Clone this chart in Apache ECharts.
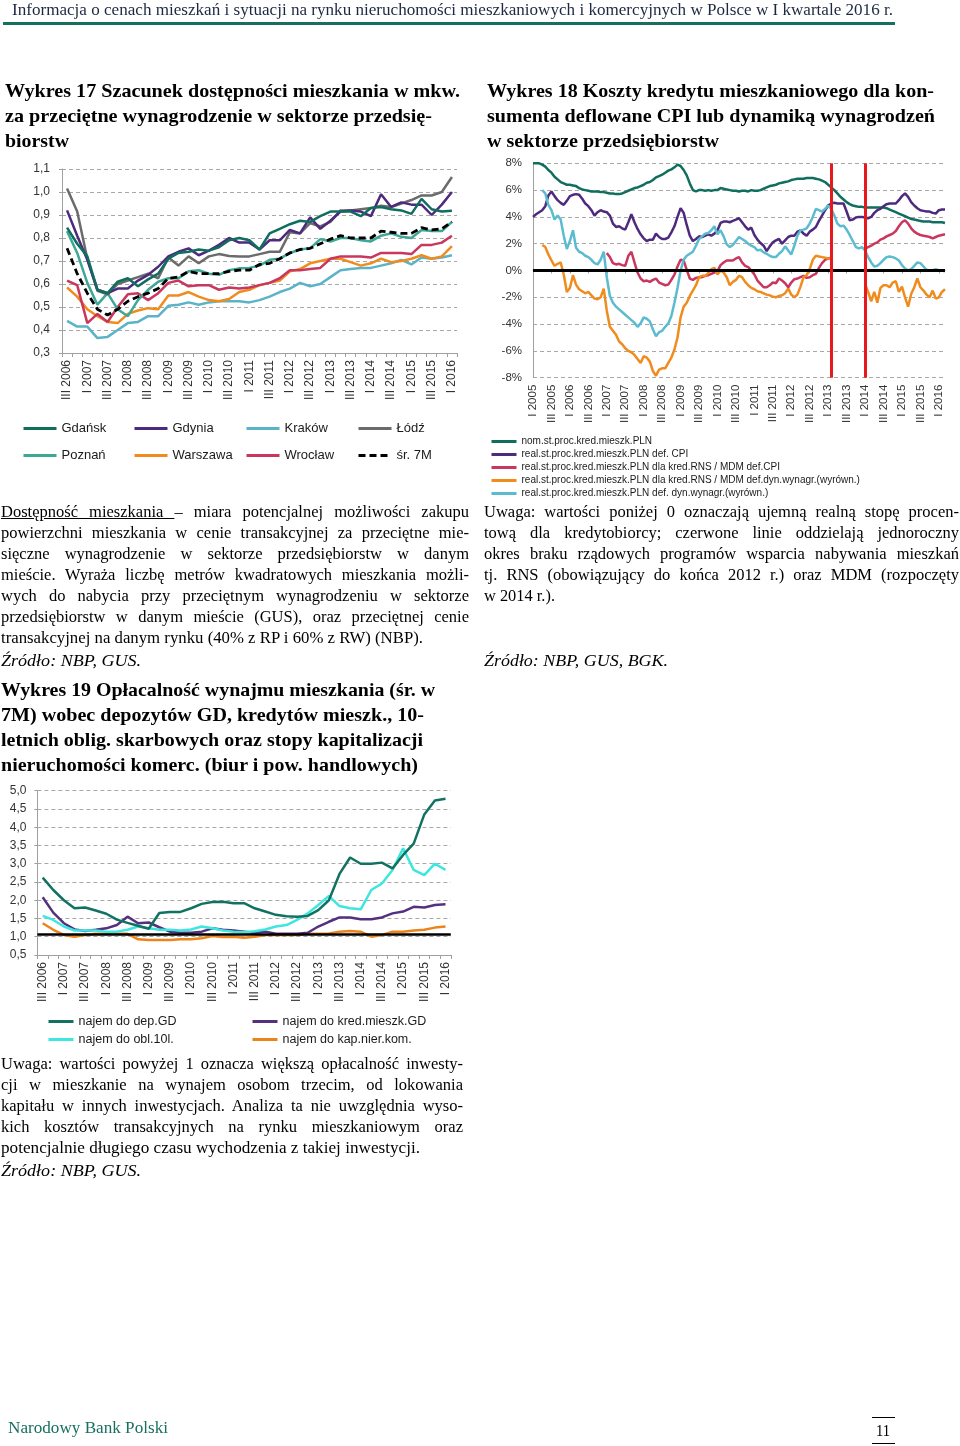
<!DOCTYPE html>
<html><head><meta charset="utf-8">
<script src="https://cdn.jsdelivr.net/npm/echarts@6.0.0/dist/echarts.min.js"></script>
<style>
html,body{margin:0;padding:0;background:#fff;}
#page{position:relative;width:960px;height:1446px;overflow:hidden;background:#fff;}
#chart{position:absolute;left:0;top:0;width:960px;height:1446px;}
.t{position:absolute;white-space:nowrap;font-family:'Liberation Serif','Times New Roman',serif;color:#000;}
.hl{position:absolute;}
</style></head>
<body><div id="page"><div id="chart"></div>
<div class="hl" style="left:3px;top:22px;width:892px;height:3px;background:#17705f;"></div>
<div class="hl" style="left:872px;top:1417px;width:23px;height:1px;background:#000;"></div>
<div class="hl" style="left:872px;top:1443px;width:23px;height:1px;background:#000;"></div>
</div>
<script>
// ---------- Wykres 17 (quarterly, III 2006 - I 2016) ----------
const quarters = ["III 2006","IV 2006","I 2007","II 2007","III 2007","IV 2007","I 2008","II 2008","III 2008","IV 2008","I 2009","II 2009","III 2009","IV 2009","I 2010","II 2010","III 2010","IV 2010","I 2011","II 2011","III 2011","IV 2011","I 2012","II 2012","III 2012","IV 2012","I 2013","II 2013","III 2013","IV 2013","I 2014","II 2014","III 2014","IV 2014","I 2015","II 2015","III 2015","IV 2015","I 2016"];
const gdansk   = [0.845,0.775,0.72,0.575,0.56,0.61,0.625,0.59,0.62,0.645, 0.71,0.735,0.74,0.75,0.745,0.76,0.79,0.80,0.79,0.75, 0.82,0.84,0.86,0.875,0.87,0.895,0.915,0.915,0.915,0.895, 0.93,0.935,0.925,0.92,0.905,0.97,0.925,0.915,0.918];
const gdynia   = [0.92,0.81,0.705,0.575,0.56,0.58,0.58,0.615,0.64,0.675, 0.72,0.74,0.755,0.725,0.745,0.77,0.80,0.78,0.78,0.75, 0.79,0.79,0.835,0.82,0.89,0.84,0.875,0.915,0.92,0.915, 0.895,0.99,0.935,0.955,0.945,0.945,0.90,0.945,1.0];
const krakow   = [0.44,0.415,0.415,0.365,0.37,0.40,0.43,0.435,0.46,0.46, 0.505,0.51,0.52,0.51,0.52,0.525,0.525,0.525,0.52,0.53, 0.545,0.565,0.58,0.605,0.59,0.60,0.63,0.66,0.665,0.67, 0.67,0.68,0.69,0.705,0.685,0.715,0.71,0.715,0.725];
const lodz     = [1.015,0.915,0.71,0.57,0.555,0.60,0.615,0.63,0.645,0.625, 0.715,0.68,0.72,0.69,0.72,0.73,0.722,0.72,0.72,0.73, 0.74,0.74,0.825,0.82,0.865,0.85,0.87,0.92,0.92,0.925, 0.93,0.94,0.935,0.95,0.965,0.985,0.985,1.0,1.065];
const poznan   = [0.83,0.735,0.605,0.51,0.56,0.49,0.46,0.53,0.575,0.61, 0.625,0.625,0.655,0.66,0.645,0.64,0.66,0.668,0.67,0.68, 0.705,0.71,0.735,0.75,0.755,0.795,0.785,0.80,0.80,0.79, 0.785,0.81,0.82,0.805,0.80,0.835,0.83,0.83,0.87];
const warszawa = [0.585,0.545,0.49,0.46,0.435,0.43,0.47,0.485,0.495,0.49, 0.55,0.55,0.565,0.545,0.53,0.525,0.535,0.565,0.575,0.595, 0.605,0.615,0.655,0.665,0.69,0.70,0.71,0.71,0.695,0.68, 0.69,0.71,0.695,0.70,0.71,0.725,0.71,0.72,0.765];
const wroclaw  = [0.615,0.595,0.43,0.47,0.435,0.50,0.555,0.56,0.53,0.56, 0.605,0.615,0.59,0.595,0.595,0.575,0.585,0.58,0.585,0.595, 0.605,0.625,0.66,0.66,0.665,0.67,0.71,0.72,0.72,0.72, 0.715,0.735,0.735,0.735,0.73,0.77,0.77,0.78,0.81];
const sr7m     = [0.755,0.645,0.56,0.49,0.465,0.49,0.525,0.545,0.56,0.58, 0.625,0.63,0.655,0.645,0.645,0.645,0.655,0.66,0.66,0.685, 0.69,0.71,0.735,0.75,0.755,0.775,0.795,0.81,0.80,0.80, 0.80,0.83,0.825,0.82,0.82,0.845,0.835,0.84,0.87];
const yTicks17 = [0.3,1.1,0.1];

// ---------- Wykres 18 (monthly, I 2005 - III 2016) ----------
const years18 = [2005,2006,2007,2008,2009,2010,2011,2012,2013,2014,2015,2016];
const months18 = [];
years18.forEach(y => { for (let m = 1; m <= 12; m++) { if (y === 2016 && m > 3) break; months18.push(y + '-' + (m < 10 ? '0' + m : m)); } });
const _ = null;
const nom18 = [
 8.0,8.0,8.0,7.9,7.75,7.5,7.3,7.0,6.8,6.6,
 6.5,6.4,6.4,6.35,6.3,6.15,6.05,6.0,5.95,5.9,
 5.9,5.9,5.85,5.85,5.8,5.75,5.75,5.7,5.7,5.75,
 5.85,5.95,6.05,6.15,6.2,6.3,6.4,6.55,6.6,6.75,
 6.95,7.05,7.15,7.3,7.45,7.55,7.7,7.9,7.8,7.5,
 7.1,6.5,6.0,5.9,6.0,6.0,5.95,6.0,5.95,6.0,
 6.0,6.15,6.1,6.05,6.0,5.95,5.95,5.9,5.95,5.95,
 5.9,6.0,5.95,5.95,6.0,6.1,6.2,6.3,6.35,6.4,
 6.5,6.55,6.6,6.65,6.75,6.8,6.85,6.85,6.85,6.9,
 6.9,6.9,6.85,6.8,6.7,6.6,6.4,6.2,6.0,5.75,
 5.5,5.3,5.1,4.95,4.85,4.8,4.75,4.75,4.7,4.7,
 4.7,4.7,4.7,4.7,4.7,4.65,4.55,4.45,4.35,4.25,
 4.15,4.05,3.95,3.85,3.8,3.75,3.7,3.65,3.65,3.65,
 3.6,3.6,3.6,3.6,3.55];
const cpi18 = [
 4.0,4.2,4.35,4.5,4.8,5.6,5.9,5.55,5.25,5.05,
 4.9,5.2,5.55,5.65,5.7,5.65,5.35,5.0,4.8,4.5,
 4.1,4.35,4.5,4.4,4.35,4.1,3.5,3.25,3.3,3.15,
 3.05,3.6,4.2,3.6,3.1,2.7,2.4,2.2,2.3,2.3,
 2.75,2.5,2.35,2.35,2.45,2.85,3.3,4.0,4.65,4.3,
 3.4,2.6,2.2,2.35,2.55,2.5,2.6,2.7,2.6,2.75,
 3.0,3.55,3.65,3.65,3.6,3.7,3.8,3.9,3.6,3.3,
 3.05,3.2,2.65,2.3,2.05,1.85,1.45,1.8,2.1,2.25,
 2.35,2.0,2.25,2.5,2.6,2.6,2.9,3.0,2.75,2.6,
 2.9,3.05,3.25,3.7,4.1,4.5,4.85,5.0,5.05,5.0,
 5.0,5.0,4.4,3.75,3.8,3.95,4.0,4.0,3.95,3.9,
 4.0,4.3,4.5,4.6,4.8,4.95,5.0,5.0,5.0,5.25,
 5.55,5.75,5.5,5.1,4.85,4.65,4.5,4.45,4.4,4.4,
 4.3,4.25,4.5,4.55,4.55];
const rnsCpi18 = [
 _,_,_,_,_,_,_,_,_,_,
 _,_,_,_,_,_,_,_,_,_,
 _,_,_,_,1.3,1.0,0.55,0.45,0.5,0.4,
 0.35,1.1,1.4,0.6,-0.15,-0.6,-0.8,-0.75,-0.85,-0.7,
 -0.6,-0.9,-1.0,-1.1,-1.05,-0.7,-0.3,0.3,0.8,0.75,
 0.05,-0.6,-0.7,-0.55,-0.5,-0.5,-0.4,-0.35,-0.25,-0.15,
 -0.05,0.4,0.6,0.75,0.75,0.75,0.9,1.0,0.6,0.35,
 0.25,0.0,-0.3,-0.75,-1.0,-1.25,-1.25,-1.1,-0.9,-0.95,
 -0.6,-0.75,-0.95,-1.25,-0.9,-0.65,-0.6,-0.5,-0.4,-0.55,
 -0.5,-0.35,-0.25,0.2,0.55,0.8,0.9,0.95,_,_,
 _,_,_,_,_,_,_,_,1.6,1.75,
 1.85,2.0,2.1,2.3,2.4,2.55,2.65,2.75,2.95,3.3,
 3.6,3.75,3.5,3.15,2.9,2.75,2.65,2.6,2.55,2.5,
 2.4,2.5,2.6,2.65,2.7];
const rnsWage18 = [
 _,_,_,1.9,1.75,1.2,0.75,0.35,0.5,0.6,
 -0.3,-1.6,-1.3,-0.35,-1.05,-1.4,-1.55,-1.7,-1.6,-1.85,
 -2.1,-2.15,-2.0,-1.35,-3.0,-4.2,-4.5,-4.8,-5.3,-5.5,
 -5.8,-6.0,-6.1,-6.3,-6.6,-6.9,-6.4,-6.5,-6.8,-7.5,
 -7.85,-7.4,-7.3,-7.3,-6.9,-6.5,-5.9,-5.0,-3.5,-2.7,
 -2.4,-1.9,-1.5,-1.1,-0.5,-0.4,-0.4,-0.2,0.1,0.2,
 -0.3,0.0,-0.15,-0.5,-1.1,-0.85,-0.7,-0.4,-0.5,-0.85,
 -1.1,-1.3,-1.4,-1.55,-1.6,-1.7,-1.8,-1.85,-1.95,-2.0,
 -1.9,-1.85,-1.7,-1.35,-1.8,-2.0,-1.8,-1.2,-0.5,-0.35,
 0.1,0.8,1.1,1.05,1.0,0.95,0.9,0.9,_,_,
 _,_,_,_,_,_,_,_,-1.0,-1.6,
 -2.3,-1.6,-2.4,-1.3,-1.1,-1.1,-1.25,-0.9,-0.8,-1.6,
 -1.2,-2.0,-2.7,-1.75,-1.25,-0.6,-1.25,-1.5,-1.8,-2.0,
 -1.5,-2.1,-2.0,-1.6,-1.4];
const cpiWage18 = [
 _,_,_,6.0,5.75,4.9,4.5,3.8,4.1,3.8,
 2.6,1.6,2.2,3.0,1.7,1.4,1.3,1.1,1.0,0.8,
 0.55,0.45,0.8,1.4,-0.5,-1.9,-2.4,-2.7,-2.9,-3.1,
 -3.3,-3.5,-3.7,-3.9,-4.2,-3.95,-3.5,-3.6,-3.8,-4.4,
 -4.9,-4.6,-4.5,-4.2,-3.95,-3.4,-2.4,-1.3,0.0,0.8,
 1.1,1.25,1.4,1.85,2.35,2.55,2.75,2.8,3.0,3.3,
 2.7,3.0,2.55,1.95,1.75,1.9,2.2,2.5,2.35,2.2,
 2.0,1.85,1.75,1.5,1.55,1.35,1.25,1.1,1.0,1.0,
 1.25,1.45,1.8,1.5,1.2,1.85,2.6,3.0,3.05,3.15,
 3.5,4.0,4.6,4.5,4.4,4.6,4.85,4.6,4.1,3.5,
 3.3,3.35,3.05,2.65,2.2,1.75,1.65,1.75,1.5,1.0,
 0.6,0.3,0.35,0.55,0.8,1.0,1.05,1.0,0.9,0.75,
 0.4,0.15,0.0,0.1,0.35,0.6,0.55,0.3,0.05,0.0,
 0.0,0.1,0.0,0.0,-0.05];
const redLines18 = ["2013-02","2014-01"];

// ---------- Wykres 19 (quarterly, III 2006 - I 2016) ----------
const dep19  = [2.62,2.28,2.0,1.78,1.8,1.72,1.63,1.47,1.38,1.3, 1.22,1.65,1.68,1.68,1.78,1.9,1.95,1.96,1.92,1.92, 1.78,1.69,1.6,1.56,1.55,1.57,1.73,2.0,2.72,3.17, 3.0,3.0,3.03,2.87,3.24,3.55,4.35,4.73,4.78];
const kred19 = [2.08,1.66,1.37,1.2,1.16,1.19,1.23,1.32,1.55,1.37, 1.39,1.26,1.14,1.11,1.11,1.14,1.23,1.19,1.17,1.14, 1.11,1.14,1.08,1.08,1.08,1.11,1.28,1.41,1.53,1.53, 1.48,1.48,1.53,1.64,1.69,1.82,1.8,1.87,1.89];
const obl19  = [1.57,1.46,1.28,1.17,1.17,1.17,1.14,1.14,1.19,1.28, 1.23,1.19,1.19,1.17,1.2,1.28,1.23,1.17,1.14,1.12, 1.15,1.2,1.28,1.32,1.46,1.64,1.87,2.12,1.84,1.78, 1.75,2.28,2.46,2.83,3.42,2.83,2.69,3.0,2.83];
const kap19  = [1.37,1.19,1.05,1.0,1.05,1.08,1.08,1.08,1.08,0.93, 0.91,0.91,0.91,0.93,0.93,0.96,1.02,0.99,1.0,0.97, 1.0,1.05,1.05,1.05,1.05,1.08,1.08,1.09,1.14,1.16, 1.14,1.0,1.05,1.14,1.14,1.17,1.19,1.25,1.28];
const ref19 = 1.08;

// ---------- styles ----------
const SANS = 'Liberation Sans';
const C = {gdansk:'#0f6e5d', gdynia:'#4e2a7e', krakow:'#5bb3c8', lodz:'#6b6b6b', poznan:'#3da896', warszawa:'#f08c1e', wroclaw:'#c9375f'};
const gridLine = {show:true, lineStyle:{color:'#a8a8a8', type:[4,3], width:1}};
const axLine = {show:true, lineStyle:{color:'#a0a0a0', width:1}};
const comma1 = v => v.toFixed(1).replace('.', ',');
const qFmt = v => { const p = v.split('-'); return ['I','II','III','IV'][Math.floor((+p[1]-1)/3)] + ' ' + p[0]; };

function ln(name, data, color, xi, extra) {
  return Object.assign({name, type:'line', data, xAxisIndex:xi, yAxisIndex:xi, symbol:'none', showSymbol:false,
    connectNulls:false, lineStyle:{color, width:2.5}, itemStyle:{color}, emphasis:{disabled:true}}, extra||{});
}
const hiddenSym = {opacity:0, borderWidth:0};
function leg(name, left, yc, w, size, lw) {
  return {data:[name], left, top: yc - 5, padding:0, itemWidth:w, itemHeight:14, itemGap:0, selectedMode:false,
    itemStyle:hiddenSym, lineStyle:{width:lw},
    textStyle:{fontSize:size, color:'#1a1a1a', fontFamily:SANS}};
}

const chart = echarts.init(document.getElementById('chart'));
const option = {
  animation:false,
  textStyle:{fontFamily:SANS},
  grid:[
    {left:62, top:169, width:395, height:184},
    {left:533, top:163.3, width:412, height:214.4},
    {left:37.4, top:790.7, width:413.4, height:164.3}
  ],
  xAxis:[
    {gridIndex:0, type:'category', data:quarters, boundaryGap:true, axisLine:axLine,
      axisTick:{show:true, interval:0, length:4, lineStyle:{color:'#a0a0a0'}},
      axisLabel:{interval:1, rotate:90, fontSize:12, color:'#333', margin:7, fontFamily:SANS}},
    {gridIndex:1, type:'category', data:months18, boundaryGap:false, axisLine:axLine,
      axisTick:{show:true, interval:5, length:3, lineStyle:{color:'#a0a0a0'}},
      axisLabel:{interval:5, rotate:90, fontSize:11.5, color:'#333', margin:7, fontFamily:SANS, formatter:qFmt}},
    {gridIndex:2, type:'category', data:quarters, boundaryGap:true, axisLine:axLine,
      axisTick:{show:true, interval:0, length:4, lineStyle:{color:'#a0a0a0'}},
      axisLabel:{interval:1, rotate:90, fontSize:12, color:'#333', margin:7, fontFamily:SANS}}
  ],
  yAxis:[
    {gridIndex:0, type:'value', min:yTicks17[0], max:yTicks17[1], interval:yTicks17[2], axisLine:axLine,
      axisTick:{show:true, length:3, lineStyle:{color:'#a0a0a0'}}, splitLine:gridLine,
      axisLabel:{formatter:comma1, fontSize:12, color:'#333', margin:12, fontFamily:SANS}},
    {gridIndex:1, type:'value', min:-8, max:8, interval:2, axisLine:axLine,
      axisTick:{show:false}, splitLine:gridLine,
      axisLabel:{formatter:'{value}%', fontSize:11.5, color:'#333', margin:11, fontFamily:SANS}},
    {gridIndex:2, type:'value', min:0.5, max:5.0, interval:0.5, axisLine:axLine,
      axisTick:{show:true, length:3, lineStyle:{color:'#a0a0a0'}}, splitLine:gridLine,
      axisLabel:{formatter:comma1, fontSize:12, color:'#333', margin:11, fontFamily:SANS}}
  ],
  legend:[
    leg('Gdańsk',22,427,33,13,3), leg('Gdynia',133,427,33,13,3), leg('Kraków',245,427,33,13,3), leg('Łódź',357,427,33,13,3),
    leg('Poznań',22,454,33,13,3), leg('Warszawa',133,454,33,13,3), leg('Wrocław',245,454,33,13,3), leg('śr. 7M',357,454,33,13,3),
    {data:['nom.st.proc.kred.mieszk.PLN','real.st.proc.kred.mieszk.PLN def. CPI','real.st.proc.kred.mieszk.PLN dla kred.RNS / MDM def.CPI','real.st.proc.kred.mieszk.PLN dla kred.RNS / MDM def.dyn.wynagr.(wyrówn.)','real.st.proc.kred.mieszk.PLN def. dyn.wynagr.(wyrówn.)'],
      orient:'vertical', left:490, top:436.5, padding:0, itemWidth:25, itemHeight:10, itemGap:3, selectedMode:false,
      itemStyle:hiddenSym, lineStyle:{width:3},
      textStyle:{fontSize:10, color:'#1a1a1a', fontFamily:SANS}},
    leg('najem do dep.GD',47,1020,25,12.5,3), leg('najem do kred.mieszk.GD',251,1020,25,12.5,3),
    leg('najem do obl.10l.',47,1038,25,12.5,3), leg('najem do kap.nier.kom.',251,1038,25,12.5,3)
  ],
  series:[
    ln('Kraków', krakow, C.krakow, 0),
    ln('Warszawa', warszawa, C.warszawa, 0),
    ln('Wrocław', wroclaw, C.wroclaw, 0),
    ln('Poznań', poznan, C.poznan, 0),
    ln('śr. 7M', sr7m, '#000', 0, {lineStyle:{color:'#000', width:2.8, type:[7,4]}}),
    ln('Łódź', lodz, C.lodz, 0),
    ln('Gdynia', gdynia, C.gdynia, 0),
    ln('Gdańsk', gdansk, C.gdansk, 0),

    ln('nom.st.proc.kred.mieszk.PLN', nom18, '#0f6e5d', 1),
    ln('real.st.proc.kred.mieszk.PLN def. CPI', cpi18, '#4e2a7e', 1),
    ln('real.st.proc.kred.mieszk.PLN dla kred.RNS / MDM def.CPI', rnsCpi18, '#c9375f', 1),
    ln('real.st.proc.kred.mieszk.PLN dla kred.RNS / MDM def.dyn.wynagr.(wyrówn.)', rnsWage18, '#f08c1e', 1),
    ln('real.st.proc.kred.mieszk.PLN def. dyn.wynagr.(wyrówn.)', cpiWage18, '#5bbcd0', 1),
    {name:'ref18', type:'line', xAxisIndex:1, yAxisIndex:1, data:months18.map(() => null), symbol:'none', z:10,
      markLine:{silent:true, symbol:'none', label:{show:false}, animation:false,
        data:[{yAxis:0, lineStyle:{color:'#000', width:3, type:'solid'}},
              {xAxis:redLines18[0], lineStyle:{color:'#e8191c', width:3, type:'solid'}},
              {xAxis:redLines18[1], lineStyle:{color:'#e8191c', width:3, type:'solid'}}]}},

    ln('najem do kap.nier.kom.', kap19, '#ec841c', 2),
    ln('najem do kred.mieszk.GD', kred19, '#55307f', 2),
    ln('najem do obl.10l.', obl19, '#3ee6e0', 2),
    ln('najem do dep.GD', dep19, '#117262', 2),
    {name:'ref19', type:'line', xAxisIndex:2, yAxisIndex:2, data:quarters.map(() => null), symbol:'none', z:10,
      markLine:{silent:true, symbol:'none', label:{show:false}, animation:false,
        data:[{yAxis:ref19, lineStyle:{color:'#000', width:2.5, type:'solid'}}]}}
  ]
};
chart.setOption(option);

// ---------- text ----------
const page = document.getElementById('page');
function place(html, x, yc, w, o) {
  const d = document.createElement('div'); d.className = 't';
  const lh = o.lh || 20;
  d.style.left = x + 'px'; d.style.top = (yc - lh/2) + 'px'; d.style.lineHeight = lh + 'px';
  d.style.fontSize = o.size + 'px';
  if (o.bold) d.style.fontWeight = 'bold';
  if (o.italic) d.style.fontStyle = 'italic';
  if (o.color) d.style.color = o.color;
  const s = document.createElement('span'); s.innerHTML = html; d.appendChild(s);
  page.appendChild(d);
  const nat = s.getBoundingClientRect().width;
  if (o.justify && nat < w) {
    d.style.width = w + 'px'; d.style.whiteSpace = 'normal'; d.style.textAlign = 'justify'; d.style.textAlignLast = 'justify';
  } else if (w) {
    s.style.display = 'inline-block'; s.style.transformOrigin = '0 50%'; s.style.transform = 'scaleX(' + (w/nat) + ')';
  }
}
const BODY = 16.5, TITLE = 19.5;
place('Informacja o cenach mieszkań i sytuacji na rynku nieruchomości mieszkaniowych i komercyjnych w Polsce w I kwartale 2016 r.', 12, 10, 881, {size:16, color:'#1c2740'});

place('Wykres 17 Szacunek dostępności mieszkania w mkw.', 5, 91, 455, {size:TITLE, bold:true, lh:24});
place('za przeciętne wynagrodzenie w sektorze przedsię-', 5, 116, 427, {size:TITLE, bold:true, lh:24});
place('biorstw', 5, 141, 64, {size:TITLE, bold:true, lh:24});

place('Wykres 18 Koszty kredytu mieszkaniowego dla kon-', 487, 91, 447, {size:TITLE, bold:true, lh:24});
place('sumenta deflowane CPI lub dynamiką wynagrodzeń', 487, 116, 448, {size:TITLE, bold:true, lh:24});
place('w sektorze przedsiębiorstw', 487, 141, 232, {size:TITLE, bold:true, lh:24});

place('Wykres 19 Opłacalność wynajmu mieszkania (śr. w', 1, 690, 434, {size:TITLE, bold:true, lh:24});
place('7M) wobec depozytów GD, kredytów mieszk., 10-', 1, 715, 423, {size:TITLE, bold:true, lh:24});
place('letnich oblig. skarbowych oraz stopy kapitalizacji', 1, 740, 422, {size:TITLE, bold:true, lh:24});
place('nieruchomości komerc. (biur i pow. handlowych)', 1, 765, 417, {size:TITLE, bold:true, lh:24});

const p1 = ['<u>Dostępność mieszkania&nbsp;</u>– miara potencjalnej możliwości zakupu',
 'powierzchni mieszkania w cenie transakcyjnej za przeciętne mie-',
 'sięczne wynagrodzenie w sektorze przedsiębiorstw w danym',
 'mieście. Wyraża liczbę metrów kwadratowych mieszkania możli-',
 'wych do nabycia przy przeciętnym wynagrodzeniu w sektorze',
 'przedsiębiorstw w danym mieście (GUS), oraz przeciętnej cenie'];
p1.forEach((t, i) => place(t, 1, 512 + 21*i, 468, {size:BODY, justify:true}));
place('transakcyjnej na danym rynku (40% z RP i 60% z RW) (NBP).', 1, 638, 422, {size:BODY});
place('Źródło: NBP, GUS.', 1, 661, 140, {size:BODY, italic:true});

const p2 = ['Uwaga: wartości poniżej 0 oznaczają ujemną realną stopę procen-',
 'tową dla kredytobiorcy; czerwone linie oddzielają jednoroczny',
 'okres braku rządowych programów wsparcia nabywania mieszkań',
 'tj. RNS (obowiązujący do końca 2012 r.) oraz MDM (rozpoczęty'];
p2.forEach((t, i) => place(t, 484, 512 + 21*i, 475, {size:BODY, justify:true}));
place('w 2014 r.).', 484, 596, 71, {size:BODY});
place('Źródło: NBP, GUS, BGK.', 484, 661, 184, {size:BODY, italic:true});

const p3 = ['Uwaga: wartości powyżej 1 oznacza większą opłacalność inwesty-',
 'cji w mieszkanie na wynajem osobom trzecim, od lokowania',
 'kapitału w innych inwestycjach. Analiza ta nie uwzględnia wyso-',
 'kich kosztów transakcyjnych na rynku mieszkaniowym oraz'];
p3.forEach((t, i) => place(t, 1, 1064 + 21*i, 462, {size:BODY, justify:true}));
place('potencjalnie długiego czasu wychodzenia z takiej inwestycji.', 1, 1148, 419, {size:BODY});
place('Źródło: NBP, GUS.', 1, 1171, 140, {size:BODY, italic:true});

place('Narodowy Bank Polski', 8, 1428, 160, {size:16, color:'#17705f'});
place('11', 876, 1431, 14, {size:16});
</script>
</body></html>
